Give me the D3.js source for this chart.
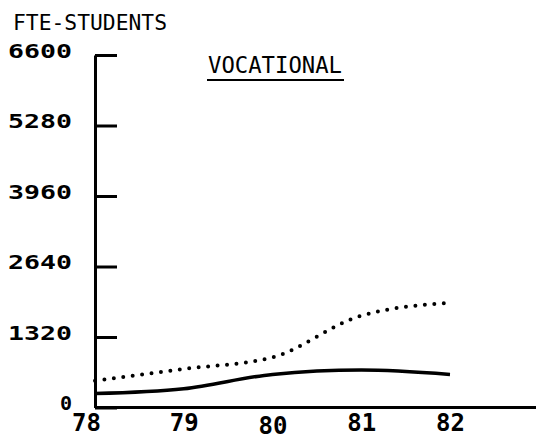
<!DOCTYPE html>
<html>
<head>
<meta charset="utf-8">
<script src="https://cdn.jsdelivr.net/npm/d3@7"></script>
<style>
  body { margin: 0; background: #fff; }
  text { font-family: "DejaVu Sans Mono", monospace; fill: #000; }
</style>
</head>
<body>
<div id="chart-area"></div>
<script>
/*
*   vocational FTE chart
*/

var years = [78, 79, 80, 81, 82];
var yTicks = [0, 1320, 2640, 3960, 5280, 6600];
var solidSeries = [260, 350, 620, 700, 620];
var dottedSeries = [500, 720, 940, 1720, 1960];
var yLabel = "FTE-STUDENTS";
var chartTitle = "VOCATIONAL";

LineChart = function(_parentElement){
  var vis = this;
  this.parentElement = _parentElement;
  this.initVis();
};

LineChart.prototype.initVis = function(){
  var vis = this;

  vis.margin = { left: 95, right: 86, top: 55, bottom: 31.5 };
  vis.totalW = 536;
  vis.totalH = 439;
  vis.width = vis.totalW - vis.margin.left - vis.margin.right;
  vis.height = vis.totalH - vis.margin.top - vis.margin.bottom;

  vis.svg = d3.select(vis.parentElement)
      .append("svg")
      .attr("width", vis.totalW)
      .attr("height", vis.totalH);
  vis.g = vis.svg.append("g")
      .attr("transform", "translate(" + vis.margin.left + "," + vis.margin.top + ")");

  vis.x = d3.scaleLinear().domain([78, 82]).range([0, vis.width]);
  vis.y = d3.scaleLinear().domain([0, 6600]).range([vis.height, 0]);

  // y axis, ticks pointing inward
  vis.yAxisCall = d3.axisLeft(vis.y)
      .tickValues(yTicks)
      .tickSizeInner(-22)
      .tickSizeOuter(0)
      .tickPadding(23)
      .tickFormat(d3.format("d"));
  vis.yAxis = vis.g.append("g").attr("class", "y axis").call(vis.yAxisCall);
  vis.yAxis.selectAll("path, line").attr("stroke", "#000").attr("stroke-width", 3);
  vis.yAxis.selectAll("text")
      .attr("dy", "0.1em")
      .attr("font-size", "20px")
      .attr("font-weight", "bold")
      .attr("textLength", 64)
      .attr("lengthAdjust", "spacingAndGlyphs");
  vis.yAxis.selectAll("text").filter(function(d){ return d === 0; })
      .attr("textLength", null);

  // x axis: labels only, baseline drawn separately
  vis.xAxisCall = d3.axisBottom(vis.x)
      .tickValues(years)
      .tickSize(0)
      .tickPadding(8)
      .tickFormat(d3.format("d"));
  vis.xAxis = vis.g.append("g")
      .attr("class", "x axis")
      .attr("transform", "translate(0," + vis.height + ")")
      .call(vis.xAxisCall);
  vis.xAxis.select(".domain").remove();
  vis.xAxis.selectAll("text")
      .attr("font-size", "24px")
      .attr("font-weight", "bold")
      .attr("dx", function(d){ return d === 78 ? -9 : 0; })
      .attr("dy", function(d){ return d === 80 ? "0.76em" : "0.66em"; });

  vis.g.append("line")
      .attr("x1", 0)
      .attr("x2", vis.totalW - vis.margin.left)
      .attr("y1", vis.height)
      .attr("y2", vis.height)
      .attr("stroke", "#000")
      .attr("stroke-width", 3);

  // axis title
  vis.svg.append("text")
      .attr("x", 13)
      .attr("y", 30)
      .attr("font-size", "21px")
      .attr("textLength", 154)
      .attr("lengthAdjust", "spacingAndGlyphs")
      .text(yLabel);

  // chart title + underline
  vis.svg.append("text")
      .attr("x", 208)
      .attr("y", 73)
      .attr("font-size", "23px")
      .attr("textLength", 134)
      .attr("lengthAdjust", "spacingAndGlyphs")
      .text(chartTitle);
  vis.svg.append("line")
      .attr("x1", 207).attr("x2", 344)
      .attr("y1", 80).attr("y2", 80)
      .attr("stroke", "#000")
      .attr("stroke-width", 2);

  vis.updateVis();
};

LineChart.prototype.updateVis = function(){
  var vis = this;

  vis.line = d3.line()
      .x(function(d, i){ return vis.x(years[i]); })
      .y(function(d){ return vis.y(d); })
      .curve(d3.curveMonotoneX);

  vis.g.append("path")
      .datum(dottedSeries)
      .attr("fill", "none")
      .attr("stroke", "#000")
      .attr("stroke-width", 4)
      .attr("stroke-linecap", "round")
      .attr("stroke-dasharray", "0 9.5")
      .attr("d", vis.line);

  vis.g.append("path")
      .datum(solidSeries)
      .attr("fill", "none")
      .attr("stroke", "#000")
      .attr("stroke-width", 3.5)
      .attr("d", vis.line);
};

var chart = new LineChart("#chart-area");
</script>
</body>
</html>
